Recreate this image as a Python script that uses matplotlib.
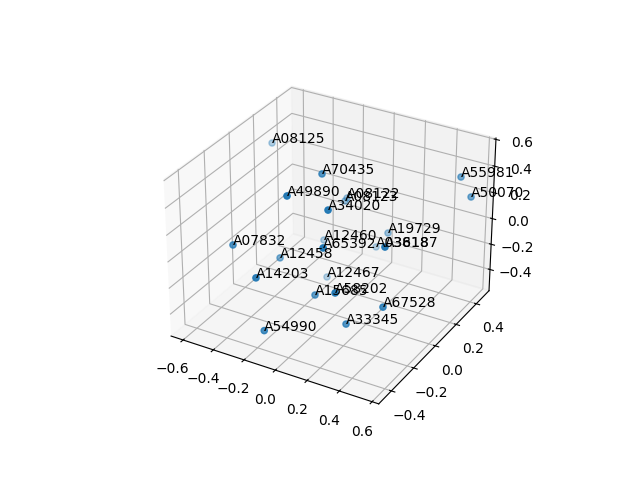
import matplotlib
matplotlib.use('Agg')
import matplotlib.pyplot as plt

names = ['A08125', 'A70435', 'A49890', 'A08122', 'A08123', 'A34020', 'A55981',
         'A50070', 'A19729', 'A12460', 'A65392', 'A03818', 'A36187', 'A07832',
         'A12458', 'A14203', 'A12467', 'A15685', 'A58202', 'A67528', 'A33345',
         'A54990']
x = [-0.629, -0.053, -0.066, -0.15, -0.13, 0.141, 0.519, 0.595, 0.127, -0.231,
     0.191, 0.013, 0.451, -0.375, -0.263, -0.124, -0.189, 0.031, 0.283, 0.458,
     0.264, -0.086]
y = [0.289, -0.039, -0.311, 0.314, 0.268, -0.251, 0.392, 0.376, 0.302, 0.216,
     -0.36, 0.357, -0.199, -0.361, -0.123, -0.494, 0.186, -0.215, -0.386,
     -0.219, -0.266, -0.485]
z = [0.346, 0.52, 0.549, 0.055, 0.072, 0.472, 0.377, 0.263, -0.116, -0.229,
     0.296, -0.307, 0.27, 0.122, -0.12, 0.069, -0.486, -0.227, 0.019, -0.158,
     -0.321, -0.321]

fig = plt.figure(figsize=(6.4, 4.8), dpi=100)
ax = fig.add_subplot(projection='3d')
ax.scatter(x, y, z)
for i in range(len(names)):
    ax.text(x[i], y[i], z[i], names[i])

ax.set_xlim(-0.68, 0.64, view_margin=0)
ax.set_ylim(-0.51, 0.53, view_margin=0)
ax.set_zlim(-0.57, 0.61, view_margin=0)

fig.savefig('out.png', dpi=100)
